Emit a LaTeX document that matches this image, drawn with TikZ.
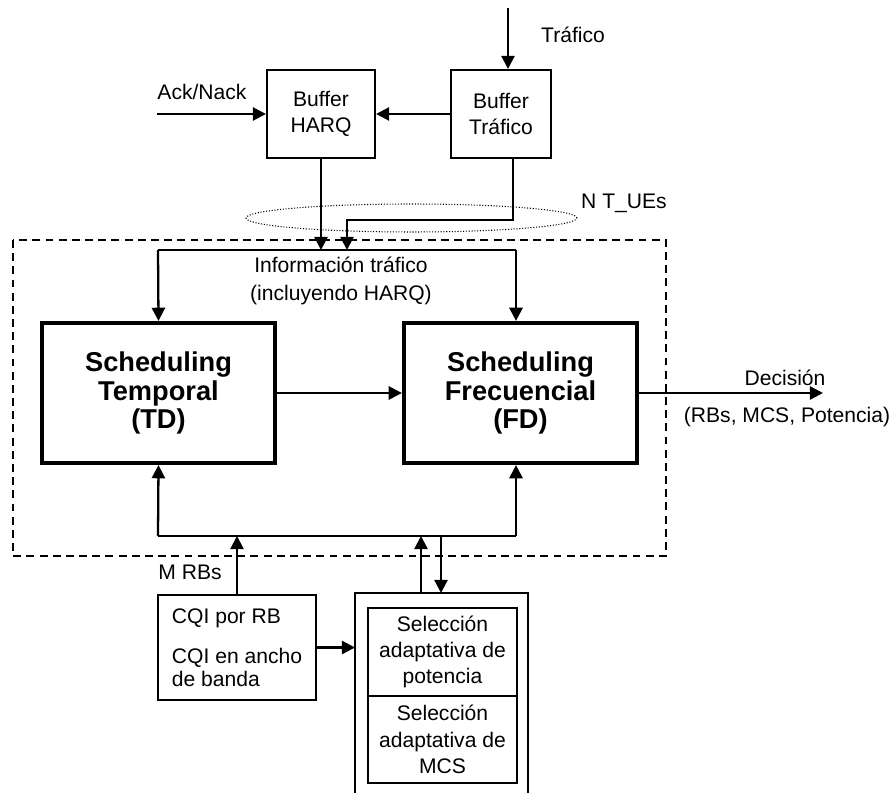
\documentclass[tikz,border=0pt]{standalone}
\usepackage{fontspec}
\setmainfont{Liberation Sans}
\usetikzlibrary{arrows.meta}
\begin{document}
\begin{tikzpicture}[x=0.02cm, y=-0.02cm, >={Triangle[length=7.5pt,width=7.5pt]},
	font=\fontsize{12}{15}\selectfont,
	caja/.style={draw, line width=1.2pt, inner sep=0pt, align=center},
	cajagrande/.style={draw, line width=2.4pt, inner sep=0pt, align=center, minimum width=4.66cm, minimum height=2.8cm, font=\fontsize{15.5}{16}\selectfont\bfseries},
	linea/.style={line width=1.3pt}]
	\useasboundingbox (0,0) rectangle (892,793);
	
	% Zona del scheduler
	\draw[line width=1.1pt, dash pattern=on 4.5pt off 3pt] (13,240) rectangle (666,556);
	\draw[densely dotted, line width=0.6pt] (411.5,218) ellipse (3.31cm and 0.28cm);
	\node (lnt) at (624,203) {N T\_UEs};
	
	% Bloques
	\node[caja, minimum width=2.16cm, minimum height=1.76cm] (harq) at (321,114) {Buffer\\HARQ};
	\node[caja, minimum width=2cm, minimum height=1.76cm] (traf) at (501,114) {Buffer\\Tráfico};
	\node[cajagrande] (td) at (158.5,393) {Scheduling\\Temporal\\(TD)};
	\node[cajagrande] (fd) at (520.5,393) {Scheduling\\Frecuencial\\(FD)};
	\node[caja, minimum width=3.16cm, minimum height=2.1cm, align=left, font=\fontsize{12}{13}\selectfont] (cqi) at (237,647.5) {CQI por RB\\[10pt]CQI en ancho\\de banda};
	\node[caja, minimum width=2.98cm, minimum height=1.76cm] (pot) at (442.5,652) {Selección\\adaptativa de\\potencia};
	\node[caja, minimum width=2.98cm, minimum height=1.74cm] (mcs) at (442.5,739.5) {Selección\\adaptativa de\\MCS};
	
	% Caja de selección (abierta abajo)
	\coordinate (selA) at (355,593);
	\coordinate (selB) at (528,593);
	\draw[linea] (selA |- 0,793) -- (selA) -- (selB) -- (selB |- 0,793);
	
	% Puntos auxiliares
	\coordinate (entrada) at (508,8);
	\coordinate (ack) at (157,114);
	\coordinate (infoL) at (158,250);
	\coordinate (infoR) at (516,250);
	\coordinate (rbL) at (158,536);
	\coordinate (rbR) at (516,536);
	\coordinate (dec) at (823,393);
	\coordinate (bajaT) at ([xshift=0.24cm]traf.south);
	\coordinate (codo) at (347,220);
	\coordinate (sube) at (421,593);
	\coordinate (baja) at (441,593);
	
	% Entradas
	\draw[linea,->] (entrada) -- (entrada |- traf.north);
	\node[anchor=west] (ltraf) at (535,35) {Tráfico};
	\draw[linea,->] (ack) -- (harq.west);
	\node (lack) at (202,92) {Ack/Nack};
	\draw[linea,->] (traf.west) -- (harq.east);
	
	% Información de tráfico
	\draw[linea,->] (harq.south) -- (harq.south |- infoL);
	\draw[linea,->] (bajaT) |- (codo) -- (codo |- infoL);
	\draw[linea] (infoL) -- (infoR);
	\draw[linea,->] (infoL) -- (td.north);
	\draw[linea,->] (infoR) -- (infoR |- fd.north);
	\node[align=center, font=\fontsize{12}{16}\selectfont] (info) at (341,281) {Información tráfico\\(incluyendo HARQ)};
	
	% TD -> FD -> decisión
	\draw[linea,->] (td.east) -- (fd.west);
	\draw[linea,->] (fd.east) -- (dec);
	\node (ldec) at (785,378) {Decisión};
	\node (lrbs) at (787,417) {(RBs, MCS, Potencia)};
	
	% Realimentación inferior
	\draw[linea] (rbL) -- (rbR);
	\draw[linea,->] (rbL) -- (td.south);
	\draw[linea,->] (rbR) -- (rbR |- fd.south);
	\draw[linea,->] (cqi.north) -- (cqi.north |- rbL);
	\node (lmrb) at (190,572) {M RBs};
	\draw[linea,->] (cqi.east) -- (cqi.east -| selA);
	\draw[linea,->] (sube) -- (sube |- rbL);
	\draw[linea,->] (baja |- rbL) -- (baja);
\end{tikzpicture}
\end{document}
